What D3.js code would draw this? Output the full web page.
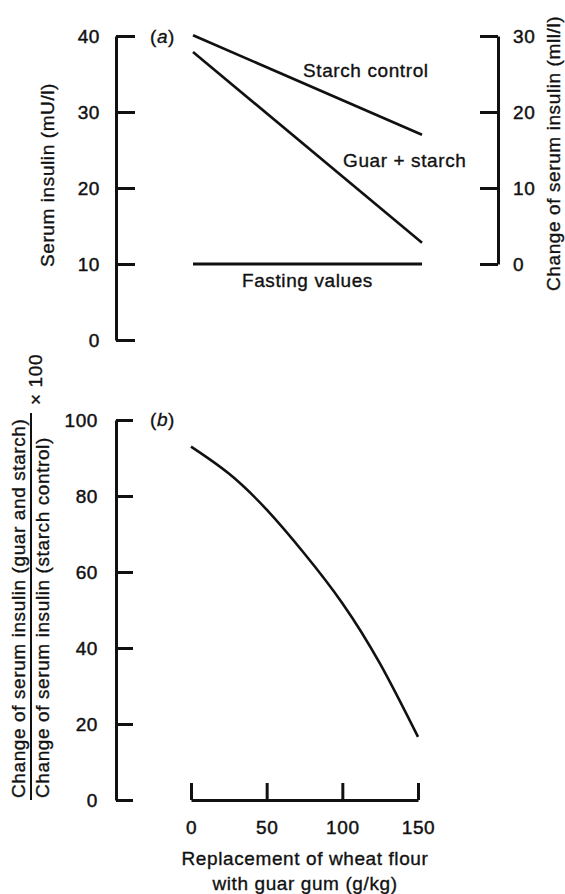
<!DOCTYPE html>
<html>
<head>
<meta charset="utf-8">
<script src="https://cdn.jsdelivr.net/npm/d3@7"></script>
<style>
  body { margin: 0; background: #fff; }
  svg text { font-family: "Liberation Sans", Arial, Helvetica, sans-serif; font-size: 19px; letter-spacing: 0.6px; fill: #111; stroke: #111; stroke-width: 0.35px; }
  .tick text { font-family: "Liberation Sans", Arial, Helvetica, sans-serif; font-size: 19px; letter-spacing: 0.6px; fill: #111; stroke: #111; stroke-width: 0.45px; }
  .axis path, .axis line { stroke: #111; stroke-width: 3; }
</style>
</head>
<body>
<svg id="chart" width="565" height="894"></svg>
<script>
// ---- Data ----
// Panel (a): serum insulin vs replacement level (g/kg)
const aX = [0, 150];
const starchControl = [40.1, 27.0];
const guarStarch = [37.9, 12.8];
const fastingValues = [10, 10];
const aLeftTicks = [0, 10, 20, 30, 40];
const aRightTicks = [0, 10, 20, 30];

// Panel (b): ratio of insulin change ×100 vs replacement of wheat flour (g/kg)
const bX = [0, 25, 50, 75, 100, 125, 150];
const bRatio = [93.0, 85.9, 76.4, 64.8, 51.8, 35.8, 16.6];
const bYTicks = [0, 20, 40, 60, 80, 100];
const bXTicks = [0, 50, 100, 150];

const svg = d3.select("#chart");

// ---- Panel (a) scales ----
const xA = d3.scaleLinear().domain([0, 150]).range([193, 422]);
const yA = d3.scaleLinear().domain([0, 40]).range([340, 36]);
const yAR = d3.scaleLinear().domain([0, 30]).range([yA(10), yA(40)]);

svg.append("g").attr("class", "axis")
  .attr("transform", "translate(116,0)")
  .call(d3.axisLeft(yA).tickValues(aLeftTicks).tickSize(-19).tickSizeOuter(0).tickPadding(16))
  .call(g => g.selectAll("text").attr("dy", "0.36em"));

svg.append("g").attr("class", "axis")
  .attr("transform", "translate(498,0)")
  .call(d3.axisRight(yAR).tickValues(aRightTicks).tickSize(-18).tickSizeOuter(0).tickPadding(15))
  .call(g => g.selectAll("text").attr("dy", "0.36em"));

const lineA = d3.line().x(d => xA(d[0])).y(d => yA(d[1]));
[starchControl, guarStarch].forEach(s => {
  svg.append("path")
    .attr("d", lineA(aX.map((x, i) => [x, s[i]])))
    .attr("fill", "none").attr("stroke", "#111").attr("stroke-width", 2.6);
});
svg.append("path")
  .attr("d", lineA(aX.map((x, i) => [x, fastingValues[i]])))
  .attr("fill", "none").attr("stroke", "#111").attr("stroke-width", 3.2);

// Panel (a) labels
const tA = svg.append("text").attr("x", 150).attr("y", 43);
tA.append("tspan").text("(");
tA.append("tspan").attr("font-style", "italic").text("a");
tA.append("tspan").text(")");

svg.append("text").attr("x", 303).attr("y", 77).text("Starch control");
svg.append("text").attr("x", 343).attr("y", 167).text("Guar + starch");
svg.append("text").attr("x", 242).attr("y", 287).text("Fasting values");

svg.append("text")
  .attr("transform", "translate(54,175) rotate(-90)")
  .attr("text-anchor", "middle")
  .text("Serum insulin (mU/l)");

svg.append("text")
  .attr("transform", "translate(560,291) rotate(-90)")
  .attr("text-anchor", "start")
  .text("Change of serum insulin (mll/l)");

// ---- Panel (b) scales ----
const xB = d3.scaleLinear().domain([0, 150]).range([191, 418]);
const yB = d3.scaleLinear().domain([0, 100]).range([800, 420]);

svg.append("g").attr("class", "axis")
  .attr("transform", "translate(116,0)")
  .call(d3.axisLeft(yB).tickValues(bYTicks).tickSize(-17).tickSizeOuter(0).tickPadding(18))
  .call(g => g.selectAll("text").attr("dy", "0.36em"));

svg.append("g").attr("class", "axis")
  .attr("transform", "translate(0,800)")
  .call(d3.axisBottom(xB).tickValues(bXTicks).tickSize(-17).tickSizeOuter(0).tickPadding(21));

const lineB = d3.line().x(d => xB(d[0])).y(d => yB(d[1])).curve(d3.curveNatural);
svg.append("path")
  .attr("d", lineB(bX.map((x, i) => [x, bRatio[i]])))
  .attr("fill", "none").attr("stroke", "#111").attr("stroke-width", 2.6);

const tB = svg.append("text").attr("x", 150).attr("y", 426);
tB.append("tspan").text("(");
tB.append("tspan").attr("font-style", "italic").text("b");
tB.append("tspan").text(")");

// x title
svg.append("text").attr("x", 305).attr("y", 865).attr("text-anchor", "middle")
  .text("Replacement of wheat flour");
svg.append("text").attr("x", 305).attr("y", 890).attr("text-anchor", "middle")
  .text("with guar gum (g/kg)");

// y title (fraction)
svg.append("text")
  .attr("transform", "translate(25,798) rotate(-90)")
  .text("Change of serum insulin (guar and starch)");
svg.append("text")
  .attr("transform", "translate(49,798) rotate(-90)")
  .text("Change of serum insulin (starch control)");
svg.append("line")
  .attr("x1", 31).attr("x2", 31).attr("y1", 800).attr("y2", 413)
  .attr("stroke", "#111").attr("stroke-width", 2);
svg.append("text")
  .attr("transform", "translate(42,405) rotate(-90)")
  .text("\u00d7 100");
</script>
</body>
</html>
